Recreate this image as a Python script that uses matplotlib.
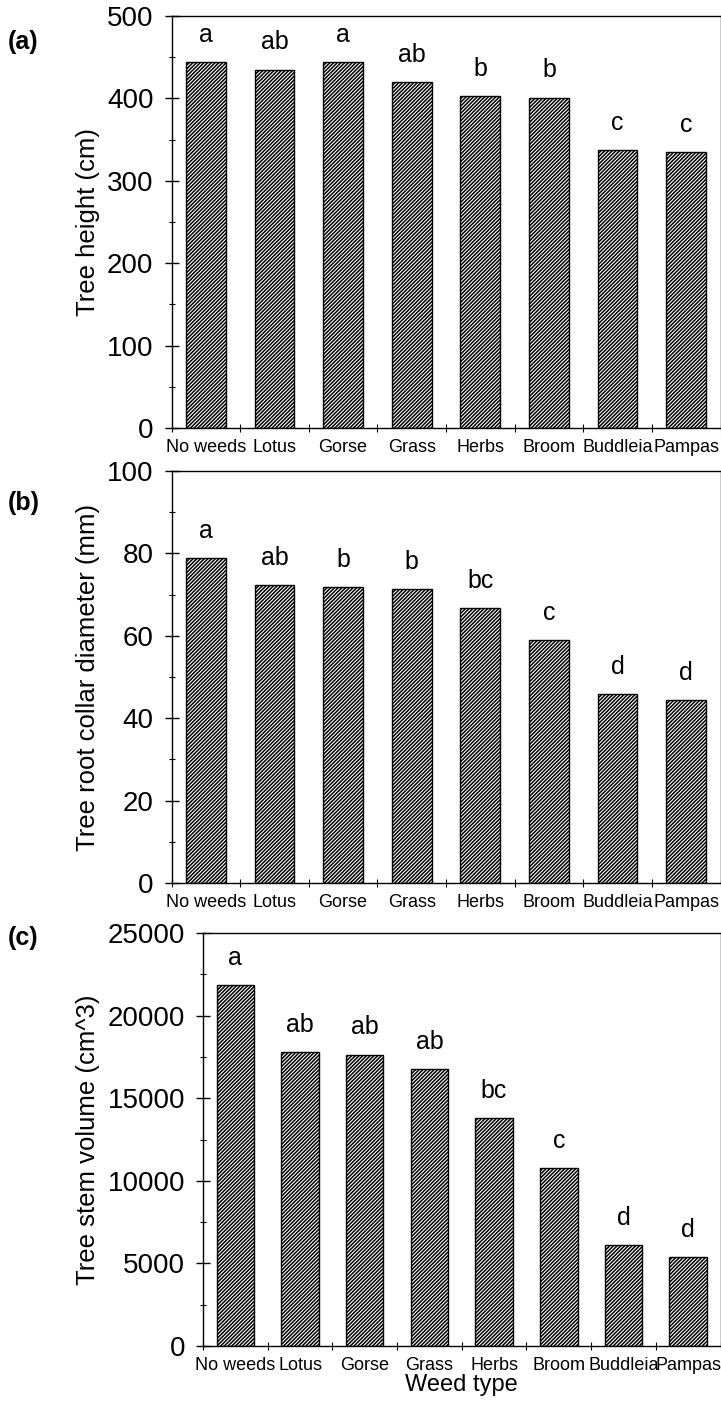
import matplotlib
matplotlib.use("Agg")
import matplotlib.pyplot as plt
from matplotlib.ticker import MultipleLocator, FixedLocator
from matplotlib.transforms import blended_transform_factory
import numpy as np

plt.rcParams['font.family'] = ['Liberation Sans', 'DejaVu Sans']
plt.rcParams['hatch.linewidth'] = 1.1

categories = ["No weeds", "Lotus", "Gorse", "Grass", "Herbs", "Broom", "Buddleia", "Pampas"]
height_cm = [444, 435, 444, 420, 403, 401, 337, 335]
diameter_mm = [78.8, 72.3, 71.8, 71.4, 66.7, 59.0, 45.9, 44.4]
volume_cm3 = [21850, 17780, 17630, 16770, 13800, 10780, 6110, 5390]
letters_a = ["a", "ab", "a", "ab", "b", "b", "c", "c"]
letters_b = ["a", "ab", "b", "b", "bc", "c", "d", "d"]
letters_c = ["a", "ab", "ab", "ab", "bc", "c", "d", "d"]

W, H = 721, 1401
fig = plt.figure(figsize=(W / 100, H / 100), dpi=100)

def frac(left, top, right, bottom):
    return [left / W, 1 - bottom / H, (right - left) / W, (bottom - top) / H]

panels = [
    dict(rect=frac(171.5, 16, 720.5, 428), vals=height_cm, letters=letters_a,
         ylim=(0, 500), major=100, minor=50, ylabel="Tree height (cm)", tag="(a)", tagy=42),
    dict(rect=frac(171.5, 471, 720.5, 883), vals=diameter_mm, letters=letters_b,
         ylim=(0, 100), major=20, minor=10, ylabel="Tree root collar diameter (mm)", tag="(b)", tagy=503),
    dict(rect=frac(203, 933, 720.5, 1346), vals=volume_cm3, letters=letters_c,
         ylim=(0, 25000), major=5000, minor=2500, ylabel="Tree stem volume (cm^3)", tag="(c)", tagy=938),
]

x = np.arange(len(categories))
for p in panels:
    ax = fig.add_axes(p["rect"])
    ax.bar(x, p["vals"], width=0.58, color="white", edgecolor="black",
           hatch="/////////", linewidth=1.0)
    for xi, v, t in zip(x, p["vals"], p["letters"]):
        ax.annotate(t, (xi, v), xytext=(0, 11), textcoords="offset points",
                    ha="center", va="bottom", fontsize=18)
    ax.set_xlim(-0.5, 7.5)
    ax.set_ylim(*p["ylim"])
    ax.yaxis.set_major_locator(MultipleLocator(p["major"]))
    ax.yaxis.set_minor_locator(MultipleLocator(p["minor"]))
    ax.tick_params(axis="y", which="major", direction="inout", length=10, width=1,
                   labelsize=20, pad=8)
    ax.tick_params(axis="y", which="minor", direction="inout", length=5, width=0.8)
    ax.set_xticks(x)
    ax.set_xticklabels(categories)
    ax.xaxis.set_minor_locator(FixedLocator(np.arange(-0.5, 8, 1.0)))
    ax.tick_params(axis="x", which="major", length=0, labelsize=13, pad=8)
    ax.tick_params(axis="x", which="minor", direction="inout", length=6, width=0.8)
    for s in ax.spines.values():
        s.set_linewidth(1.0)
    ax.set_ylabel(p["ylabel"], fontsize=18.5)
    ax.yaxis.set_label_coords(88 / W, 0.5,
                              transform=blended_transform_factory(fig.transFigure, ax.transAxes))
    ax.yaxis.label.set_va("center")
    fig.text(8 / W, 1 - p["tagy"] / H, p["tag"], fontsize=18, fontweight="bold",
             ha="left", va="center")
    last = ax

last.set_xlabel("Weed type", fontsize=17, labelpad=0)

fig.savefig("out.png", dpi=100)
